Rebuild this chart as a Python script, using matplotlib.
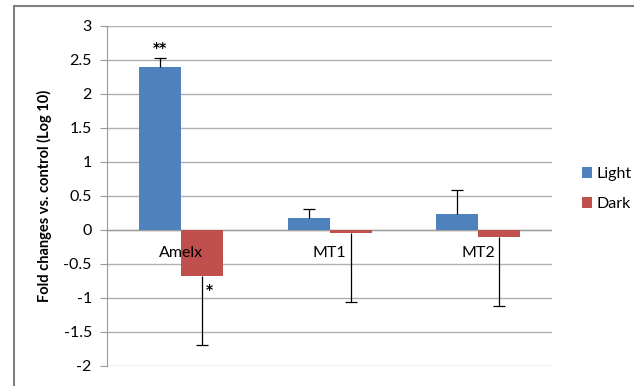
import numpy as np
import matplotlib.pyplot as plt
from matplotlib.patches import Rectangle

genes = ["Amelx", "MT1", "MT2"]
light = [2.40, 0.18, 0.24]
dark = [-0.68, -0.04, -0.11]
light_err = [0.13, 0.13, 0.35]
dark_err = [1.01, 1.02, 1.01]
yticks = [3, 2.5, 2, 1.5, 1, 0.5, 0, -0.5, -1, -1.5, -2]
tick_labels = ["3", "2.5", "2", "1.5", "1", "0.5", "0", "-0.5", "-1", "-1.5", "-2"]

blue = "#4F81BD"
red = "#C0504D"

plt.rcParams["font.family"] = ["Lato", "DejaVu Sans"]

fig = plt.figure(figsize=(6.34, 3.86), dpi=100)
ax = fig.add_axes([0.169, 0.052, 0.702, 0.881])

x = np.arange(len(genes))
w = 0.284
ax.bar(x - w / 2, light, w, color=blue, label="Light", zorder=3)
ax.bar(x + w / 2, dark, w, color=red, label="Dark", zorder=3)

# one-sided error bars: up for Light, down for Dark, cap only at the far end
light_top = np.array(light) + np.array(light_err)
dark_bot = np.array(dark) - np.array(dark_err)
ax.vlines(x - w / 2, light, light_top, color="black", linewidth=0.9, zorder=4)
ax.vlines(x + w / 2, dark, dark_bot, color="black", linewidth=0.9, zorder=4)
ax.plot(x - w / 2, light_top, ls="none", marker="_", ms=8, mew=0.9,
        color="black", zorder=4)
ax.plot(x + w / 2, dark_bot, ls="none", marker="_", ms=8, mew=0.9,
        color="black", zorder=4)

# significance marks
ax.text(x[0] - w / 2, light[0] + light_err[0] + 0.04, "**", ha="center",
        va="bottom", fontsize=10, fontweight="bold", family="DejaVu Sans")
ax.text(x[0] + w / 2 + 0.05, dark[0] - 0.2, "*", ha="center", va="center",
        fontsize=10, fontweight="bold", family="DejaVu Sans")

for i, g in enumerate(genes):
    ax.text(i, -0.34, g, ha="center", va="center", fontsize=11.5)

ax.set_xlim(-0.5, 2.5)
ax.set_ylim(-2, 3)
ax.set_yticks(yticks)
ax.set_yticklabels(tick_labels, fontsize=11.5)
ax.set_xticks([])
ax.tick_params(axis="y", direction="out", length=5, color="#999999", pad=6)
ax.grid(axis="y", color="#b0b0b0", linewidth=1, zorder=0)
ax.axhline(0, color="#a0a0a0", linewidth=1, zorder=2)
for s in ["top", "right", "bottom"]:
    ax.spines[s].set_visible(False)
ax.spines["left"].set_color("#999999")

ax.set_ylabel("Fold changes vs. control (Log 10)", fontsize=10.5,
              fontweight="bold", labelpad=8)

ax.legend(loc="center left", bbox_to_anchor=(1.035, 0.52), frameon=False,
          fontsize=11.5, handlelength=0.6, handleheight=0.6, handletextpad=0.3,
          labelspacing=1.0)

# chart frame, cut off at the right and bottom
fig.patches.append(Rectangle((14 / 634, -0.05), 0.98, 1 - 6 / 386 + 0.05,
                             transform=fig.transFigure, fill=False,
                             edgecolor="#808080", linewidth=1.5))

fig.savefig("out.png", dpi=100)
